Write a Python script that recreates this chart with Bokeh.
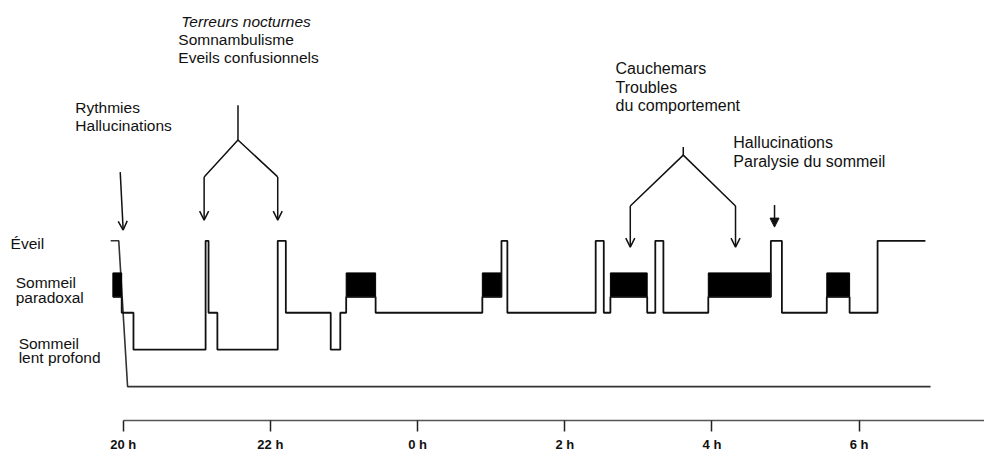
from bokeh.plotting import figure
from bokeh.models import Range1d, FixedTicker, Label, Arrow, OpenHead, NormalHead
from bokeh.embed import file_html
from bokeh.resources import INLINE

# ---- data (hours, 24 = midnight) ----
stage_levels = {"Éveil": 3.95, "SP": 2.43, "SL": 2.0, "SLP": 1.0}
rem_band = (2.43, 3.08)

hyp_times = [19.86, 19.98, 20.14, 21.12, 21.16, 21.28, 22.10, 22.21, 22.82, 22.95,
             23.03, 23.43, 24.88, 25.14, 25.22, 26.42, 26.53, 26.62, 27.12, 27.23,
             27.34, 27.95, 28.80, 28.95, 29.56, 29.87, 30.25, 30.90]
hyp_stages = ["SP", "SL", "SLP", "Éveil", "SL", "SLP", "Éveil", "SL", "SLP", "SL",
              "SP", "SL", "SP", "Éveil", "SL", "Éveil", "SL", "SP", "SL", "Éveil",
              "SL", "SP", "Éveil", "SL", "SP", "SL", "Éveil", "Éveil"]

frame_x = [19.83, 19.94, 20.06, 30.97]
frame_y = [3.95, 3.95, 0.0, 0.0]

tick_hours = [20, 22, 24, 26, 28, 30]
tick_labels = ["20 h", "22 h", "0 h", "2 h", "4 h", "6 h"]

stage_label_lines = [("Éveil", 18.47, 3.88), ("Sommeil", 18.54, 2.83), ("paradoxal", 18.54, 2.42),
                     ("Sommeil", 18.58, 1.16), ("lent profond", 18.58, 0.78)]

# annotations: (text, x, y, italic, size)
notes = [
    ("Terreurs nocturnes", 20.79, 9.90, True, "15.5px"),
    ("Somnambulisme", 20.75, 9.40, False, "15.5px"),
    ("Eveils confusionnels", 20.75, 8.92, False, "15.5px"),
    ("Rythmies", 19.35, 7.57, False, "15.5px"),
    ("Hallucinations", 19.35, 7.08, False, "15.5px"),
    ("Cauchemars", 26.69, 8.63, False, "16px"),
    ("Troubles", 26.69, 8.11, False, "16px"),
    ("du comportement", 26.69, 7.62, False, "16px"),
    ("Hallucinations", 28.29, 6.62, False, "16px"),
    ("Paralysie du sommeil", 28.29, 6.11, False, "16px"),
]

# event pointers
single_arrows = [(19.96, 5.81, 20.00, 4.24, "open"), (28.85, 4.92, 28.85, 4.32, "filled")]
brackets = [
    dict(x=21.56, top=7.62, apex=6.68, lx=21.10, rx=22.10, corner=5.68, tip=4.51),
    dict(x=27.61, top=6.49, apex=6.27, lx=26.89, rx=28.32, corner=4.89, tip=3.78),
]

# ---- figure ----
px_per_h = 73.6
x0 = 20 - 122.67 / px_per_h
p = figure(width=984, height=454, output_backend="svg", toolbar_location=None,
           x_range=Range1d(x0, x0 + 984 / px_per_h),
           y_range=Range1d(-34 / 37, 387 / 37),
           min_border_left=0, min_border_right=0, min_border_top=0, min_border_bottom=33)
p.outline_line_color = None
p.grid.visible = False
p.yaxis.visible = False
p.background_fill_color = "white"
p.border_fill_color = "white"

ax = p.xaxis[0]
ax.ticker = FixedTicker(ticks=tick_hours)
ax.major_label_overrides = {h: l for h, l in zip(tick_hours, tick_labels)}
ax.bounds = (20, x0 + 984 / px_per_h)
ax.axis_line_color = "#555"
ax.axis_line_width = 1.5
ax.major_tick_line_color = "#222"
ax.major_tick_line_width = 1.5
ax.major_tick_out = 11
ax.major_tick_in = 0
ax.minor_tick_line_color = None
ax.major_label_standoff = 5
ax.major_label_text_font = "Liberation Sans"
ax.major_label_text_font_style = "bold"
ax.major_label_text_font_size = "13px"
ax.major_label_text_color = "#111"

# frame / baseline
p.line(frame_x, frame_y, line_color="#333", line_width=1.6)

# REM bands
rem_l, rem_r = [], []
for i, s in enumerate(hyp_stages[:-1]):
    if s == "SP":
        rem_l.append(hyp_times[i]); rem_r.append(hyp_times[i + 1])
p.quad(left=rem_l, right=rem_r, bottom=rem_band[0], top=rem_band[1],
       fill_color="black", line_color="black", line_width=1)

# hypnogram step line
levels = [stage_levels[s] for s in hyp_stages]
p.step(hyp_times, levels, mode="after", line_color="#111", line_width=1.8)

# stage labels
for t, x, y in stage_label_lines:
    p.add_layout(Label(x=x, y=y, text=t, text_font="Liberation Sans", text_font_size="15.5px",
                       text_color="#111", text_baseline="alphabetic", text_align="left"))

for t, x, y, it, sz in notes:
    p.add_layout(Label(x=x, y=y, text=t, text_font="Liberation Sans", text_font_size=sz,
                       text_font_style="italic" if it else "normal",
                       text_color="#111", text_baseline="alphabetic", text_align="left"))

for xs, ys, xe, ye, kind in single_arrows:
    head = OpenHead(size=9, line_width=1.5, line_color="#111") if kind == "open" else \
        NormalHead(size=9, fill_color="#111", line_color="#111")
    p.add_layout(Arrow(end=head, x_start=xs, y_start=ys, x_end=xe, y_end=ye,
                       line_width=1.5, line_color="#111"))

for b in brackets:
    p.line([b["x"], b["x"]], [b["top"], b["apex"]], line_color="#111", line_width=1.5)
    p.line([b["lx"], b["x"], b["rx"]], [b["corner"], b["apex"], b["corner"]],
           line_color="#111", line_width=1.5)
    for cx in (b["lx"], b["rx"]):
        p.add_layout(Arrow(end=OpenHead(size=9, line_width=1.5, line_color="#111"),
                           x_start=cx, y_start=b["corner"], x_end=cx, y_end=b["tip"],
                           line_width=1.5, line_color="#111"))

open("out.html", "w").write(file_html(p, INLINE))
